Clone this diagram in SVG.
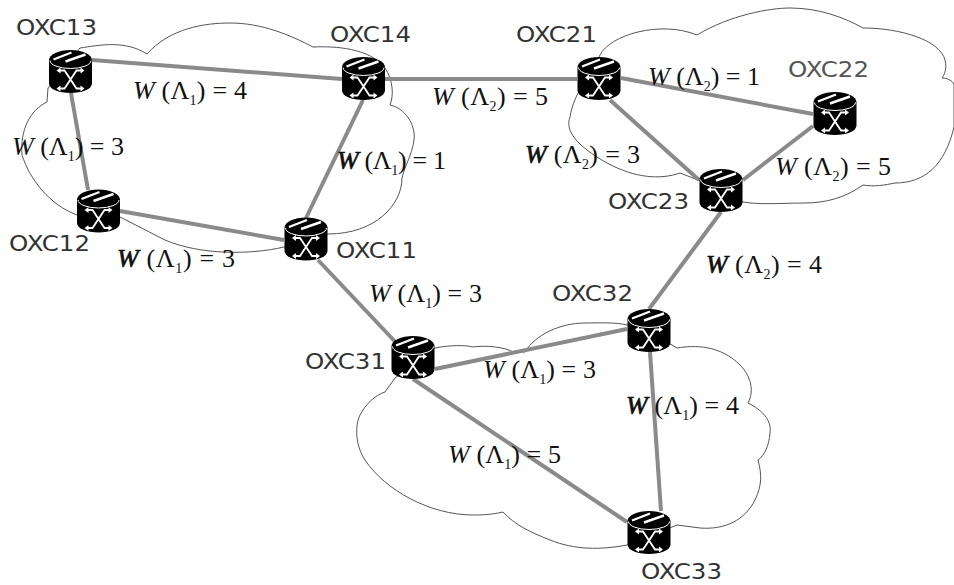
<svg xmlns="http://www.w3.org/2000/svg" width="954" height="585" viewBox="0 0 954 585">
<style>
.cloud{fill:#fff;stroke:#555;stroke-width:1}
.edge{stroke:#8a8a8a;stroke-width:4;fill:none}
.name{font-family:"DejaVu Sans","Liberation Sans",sans-serif;font-size:22px;fill:#333}
.w{font-family:"Liberation Serif",serif;font-size:26px;fill:#111}
.w .i{font-style:italic}
.w .b{font-style:italic;stroke:#111;stroke-width:.7}
.w .s{font-size:14px}
.x{fill:none;stroke:#fff;stroke-width:1.800}
</style>
<defs>
<g id="oxc">
<path d="M-21.500-11.500A21.500 10 0 0 1 21.500-11.500V12A21.500 9.500 0 0 1-21.500 12Z" fill="#000"/>
<path d="M-20.500-11A20.500 8 0 0 0 20.500-11" fill="none" stroke="#fff" stroke-width="1"/>
<path d="M-17-12L1-19M-5-10L15-17" stroke="#fff" stroke-width="2.400" fill="none"/>
<path d="M-12-1H-6L6 17H12M12-1H6L-6 17H-12" class="x"/>
<path d="M-14-1L-10-4V2ZM14-1L10-4V2ZM-14 17L-10 14V20ZM14 17L10 14V20Z" fill="#fff"/>
</g>
</defs>
<g id="clouds">
<path class="cloud" d="M80 48C100 45 125 40 147 54C170 28 205 23 230 23C262 23 290 35 313 47C335 46 370 48 385 68C393 80 394 95 390 105C405 108 416 125 414 140C412 155 405 165 402 178C402 205 375 234 328 234L284 247C250 255 200 255 165 240C150 232 135 225 120 217L77 215C50 205 30 180 22 155C20 130 30 110 47 102L48 88Z"/>
<path class="cloud" d="M600 55C610 35 660 20 697 35C730 15 770 8 790 8C820 8 845 18 863 28C900 28 940 40 945 60C947 68 945 74 942 78C950 78 954 83 954 85V127C945 165 925 183 895 183C885 185 875 187 863 185C845 198 825 203 805 203C785 203 760 205 743 202L698 180L680 173C660 180 635 178 607 163C575 145 565 130 570 117C572 105 575 100 577 95Z"/>
<path class="cloud" d="M435 348C450 345 465 345 473 347C485 345 505 347 513 352L525 352C535 335 560 323 585 323C600 323 615 322 627 325L672 345L677 348C695 345 720 345 740 365C750 375 755 390 748 403C762 410 772 420 770 433C769 445 765 455 758 460C762 475 762 485 755 500C745 520 725 530 700 528L677 525L627 545C600 550 575 550 550 540C530 532 515 525 503 512C490 515 480 515 473 515C430 515 385 490 365 460C355 445 355 425 360 415C365 405 375 395 385 392L395 378Z"/>
</g>
<g id="connectors">
<path class="edge" d="M92 60L342 79"/>
<path class="edge" d="M71 93L88 190"/>
<path class="edge" d="M120 211L284 240"/>
<path class="edge" d="M363 100L306 218"/>
<path class="edge" d="M385 79H577"/>
<path class="edge" d="M621 78L813 114"/>
<path class="edge" d="M610 100L699 180"/>
<path class="edge" d="M813 126L743 180"/>
<path class="edge" d="M721 212L649 309"/>
<path class="edge" d="M318 260L403 350"/>
<path class="edge" d="M435 369L627 329"/>
<path class="edge" d="M413 379L627 522"/>
<path class="edge" d="M650 352L661 511"/>
</g>
<g id="OXC13"><use href="#oxc" x="70.500" y="71.500"/><text class="name" x="16" y="35" textLength="81" lengthAdjust="spacingAndGlyphs">OXC13</text></g>
<g id="OXC14"><use href="#oxc" x="363.500" y="78.500"/><text class="name" x="330" y="42" textLength="81" lengthAdjust="spacingAndGlyphs">OXC14</text></g>
<g id="OXC12"><use href="#oxc" x="98.500" y="211"/><text class="name" x="9" y="251" textLength="81" lengthAdjust="spacingAndGlyphs">OXC12</text></g>
<g id="OXC11"><use href="#oxc" x="306" y="239"/><text class="name" x="336" y="258" textLength="81" lengthAdjust="spacingAndGlyphs">OXC11</text></g>
<g id="OXC21"><use href="#oxc" x="599" y="78.500"/><text class="name" x="516" y="42" textLength="81" lengthAdjust="spacingAndGlyphs">OXC21</text></g>
<g id="OXC22"><use href="#oxc" x="835" y="113.500"/><text class="name" x="788" y="77" textLength="81" lengthAdjust="spacingAndGlyphs" style="fill:#555">OXC22</text></g>
<g id="OXC23"><use href="#oxc" x="721" y="190.500"/><text class="name" x="608" y="209" textLength="81" lengthAdjust="spacingAndGlyphs">OXC23</text></g>
<g id="OXC32"><use href="#oxc" x="649" y="330.500"/><text class="name" x="552" y="301" textLength="81" lengthAdjust="spacingAndGlyphs">OXC32</text></g>
<g id="OXC31"><use href="#oxc" x="413" y="357.500"/><text class="name" x="305" y="369" textLength="81" lengthAdjust="spacingAndGlyphs">OXC31</text></g>
<g id="OXC33"><use href="#oxc" x="649" y="532.500"/><text class="name" x="641" y="579" textLength="81" lengthAdjust="spacingAndGlyphs">OXC33</text></g>
<g id="weights">
<text class="w" x="133" y="99" textLength="114"><tspan class="i">W</tspan> (Λ<tspan class="s" dy="6">1</tspan><tspan dy="-6">) = 4</tspan></text>
<text class="w" x="12" y="155" textLength="112"><tspan class="i">W</tspan> (Λ<tspan class="s" dy="6">1</tspan><tspan dy="-6">) = 3</tspan></text>
<text class="w" x="337" y="169" textLength="109"><tspan class="b">W</tspan> (Λ<tspan class="s" dy="6">1</tspan><tspan dy="-6">) = 1</tspan></text>
<text class="w" x="117" y="267" textLength="118"><tspan class="b">W</tspan> (Λ<tspan class="s" dy="6">1</tspan><tspan dy="-6">) = 3</tspan></text>
<text class="w" x="432" y="105" textLength="116"><tspan class="i">W</tspan> (Λ<tspan class="s" dy="6">2</tspan><tspan dy="-6">) = 5</tspan></text>
<text class="w" x="648" y="85" textLength="112"><tspan class="i">W</tspan> (Λ<tspan class="s" dy="6">2</tspan><tspan dy="-6">) = 1</tspan></text>
<text class="w" x="525" y="163" textLength="115"><tspan class="b">W</tspan> (Λ<tspan class="s" dy="6">2</tspan><tspan dy="-6">) = 3</tspan></text>
<text class="w" x="775" y="175" textLength="116"><tspan class="i">W</tspan> (Λ<tspan class="s" dy="6">2</tspan><tspan dy="-6">) = 5</tspan></text>
<text class="w" x="706" y="273" textLength="116"><tspan class="b">W</tspan> (Λ<tspan class="s" dy="6">2</tspan><tspan dy="-6">) = 4</tspan></text>
<text class="w" x="369" y="302" textLength="113"><tspan class="i">W</tspan> (Λ<tspan class="s" dy="6">1</tspan><tspan dy="-6">) = 3</tspan></text>
<text class="w" x="483" y="378" textLength="113"><tspan class="i">W</tspan> (Λ<tspan class="s" dy="6">1</tspan><tspan dy="-6">) = 3</tspan></text>
<text class="w" x="626" y="414" textLength="113"><tspan class="b">W</tspan> (Λ<tspan class="s" dy="6">1</tspan><tspan dy="-6">) = 4</tspan></text>
<text class="w" x="448" y="463" textLength="113"><tspan class="i">W</tspan> (Λ<tspan class="s" dy="6">1</tspan><tspan dy="-6">) = 5</tspan></text>
</g>
</svg>
